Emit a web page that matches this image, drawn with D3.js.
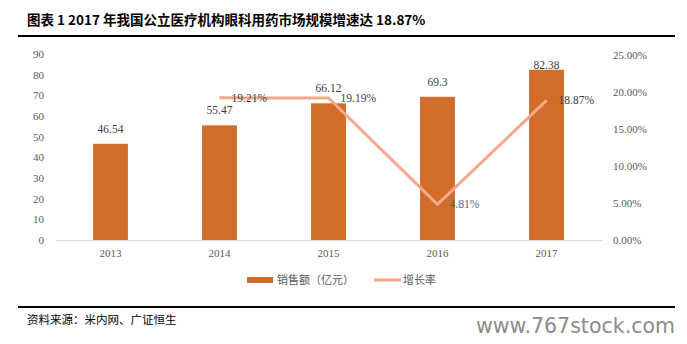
<!DOCTYPE html>
<html><head><meta charset="utf-8">
<script src="https://cdn.jsdelivr.net/npm/d3@7"></script>
<style>body{margin:0;background:#fff;}svg{display:block;}</style>
</head><body>
<svg id="c" width="687" height="344"></svg>
<script>
const years = ["2013","2014","2015","2016","2017"];
const sales = [46.54, 55.47, 66.12, 69.3, 82.38];
const growthYears = ["2014","2015","2016","2017"];
const growth = [19.21, 19.19, 4.81, 18.87];
const leftTicks = [0,10,20,30,40,50,60,70,80,90];
const rightTicks = [0,5,10,15,20,25];
const title = "图表 1 2017 年我国公立医疗机构眼科用药市场规模增速达 18.87%";
const source = "资料来源：米内网、广证恒生";
const legendLabels = ["销售额（亿元）","增长率"];

const svg = d3.select("#c");
const serif = "'Liberation Serif','Times New Roman',serif";
const cjk = "'Noto Sans CJK SC','Noto Sans',sans-serif";
const barColor = "#d26c2b", lineColor = "#f4a98a";

const x = d3.scaleBand().domain(years).range([56, 601]).paddingInner(0.68).paddingOuter(0.34);
const yL = d3.scaleLinear().domain([0, 90]).range([240, 54]);
const yR = d3.scaleLinear().domain([0, 25]).range([240, 55]);

// title
svg.append("text").attr("x", 27).attr("y", 25).attr("font-family", cjk).attr("font-weight", "bold")
  .attr("font-size", 13.5).attr("fill", "#000").text(title);
svg.append("line").attr("x1", 18).attr("x2", 675).attr("y1", 36).attr("y2", 36).attr("stroke", "#000").attr("stroke-width", 2);

// left axis
const gl = svg.append("g").attr("transform", "translate(56,0)")
  .call(d3.axisLeft(yL).tickValues(leftTicks).tickSize(0).tickPadding(12).tickFormat(d3.format("d")));
gl.select(".domain").remove();
gl.selectAll("text").attr("font-family", serif).attr("font-size", 11).attr("fill", "#595959");

// right axis
const gr = svg.append("g").attr("transform", "translate(603,0)")
  .call(d3.axisRight(yR).tickValues(rightTicks).tickSize(0).tickPadding(10).tickFormat(d => d.toFixed(2) + "%"));
gr.select(".domain").remove();
gr.selectAll("text").attr("font-family", serif).attr("font-size", 11).attr("fill", "#595959");

// bottom axis
const gb = svg.append("g").attr("transform", "translate(0,240)")
  .call(d3.axisBottom(x).tickSize(0).tickPadding(9));
gb.select(".domain").attr("stroke", "#d9d9d9").attr("d", "M56,0.5H603");
gb.selectAll("text").attr("font-family", serif).attr("font-size", 11).attr("fill", "#595959");

// bars
svg.append("g").selectAll("rect").data(years).join("rect")
  .attr("x", d => x(d)).attr("width", x.bandwidth())
  .attr("y", (d, i) => yL(sales[i])).attr("height", (d, i) => yL(0) - yL(sales[i]))
  .attr("fill", barColor);
svg.append("g").selectAll("text").data(years).join("text")
  .attr("x", d => x(d) + x.bandwidth() / 2)
  .attr("y", (d, i) => Math.max(yL(sales[i]) - 15, 65))
  .attr("dy", "0.35em").attr("text-anchor", "middle")
  .attr("font-family", serif).attr("font-size", 11.5).attr("fill", "#404040")
  .text((d, i) => String(sales[i]));

// line
const cx = d => x(d) + x.bandwidth() / 2;
const line = d3.line().x((d, i) => cx(growthYears[i])).y(d => yR(d));
svg.append("path").datum(growth).attr("d", line).attr("fill", "none")
  .attr("stroke", lineColor).attr("stroke-width", 3).attr("stroke-linejoin", "round");
svg.append("g").selectAll("text").data(growth).join("text")
  .attr("x", (d, i) => cx(growthYears[i]) + 12).attr("y", d => yR(d)).attr("dy", "0.35em")
  .attr("font-family", serif).attr("font-size", 11.5)
  .attr("fill", (d, i) => i === 2 ? "#3f5f8f" : "#404040")
  .text(d => d.toFixed(2) + "%");

// legend
const lg = svg.append("g");
lg.append("rect").attr("x", 247).attr("y", 277).attr("width", 26).attr("height", 6).attr("fill", barColor);
lg.append("text").attr("x", 277).attr("y", 280).attr("dy", "0.35em").attr("font-family", cjk)
  .attr("font-size", 11).attr("fill", "#595959").text(legendLabels[0]);
lg.append("line").attr("x1", 374).attr("x2", 401).attr("y1", 280).attr("y2", 280).attr("stroke", lineColor).attr("stroke-width", 3);
lg.append("text").attr("x", 403).attr("y", 280).attr("dy", "0.35em").attr("font-family", cjk)
  .attr("font-size", 11).attr("fill", "#595959").text(legendLabels[1]);

// footer
svg.append("line").attr("x1", 18).attr("x2", 675).attr("y1", 307).attr("y2", 307).attr("stroke", "#000").attr("stroke-width", 2);
svg.append("text").attr("x", 27).attr("y", 324).attr("font-family", cjk).attr("font-size", 11.5)
  .attr("fill", "#000").text(source);
svg.append("text").attr("x", 476).attr("y", 333).attr("font-family", "'DejaVu Sans',sans-serif")
  .attr("font-size", 21).attr("fill", "#8c8c8c")
  .attr("textLength", 199).attr("lengthAdjust", "spacingAndGlyphs").text("www.767stock.com");
</script>
</body></html>
